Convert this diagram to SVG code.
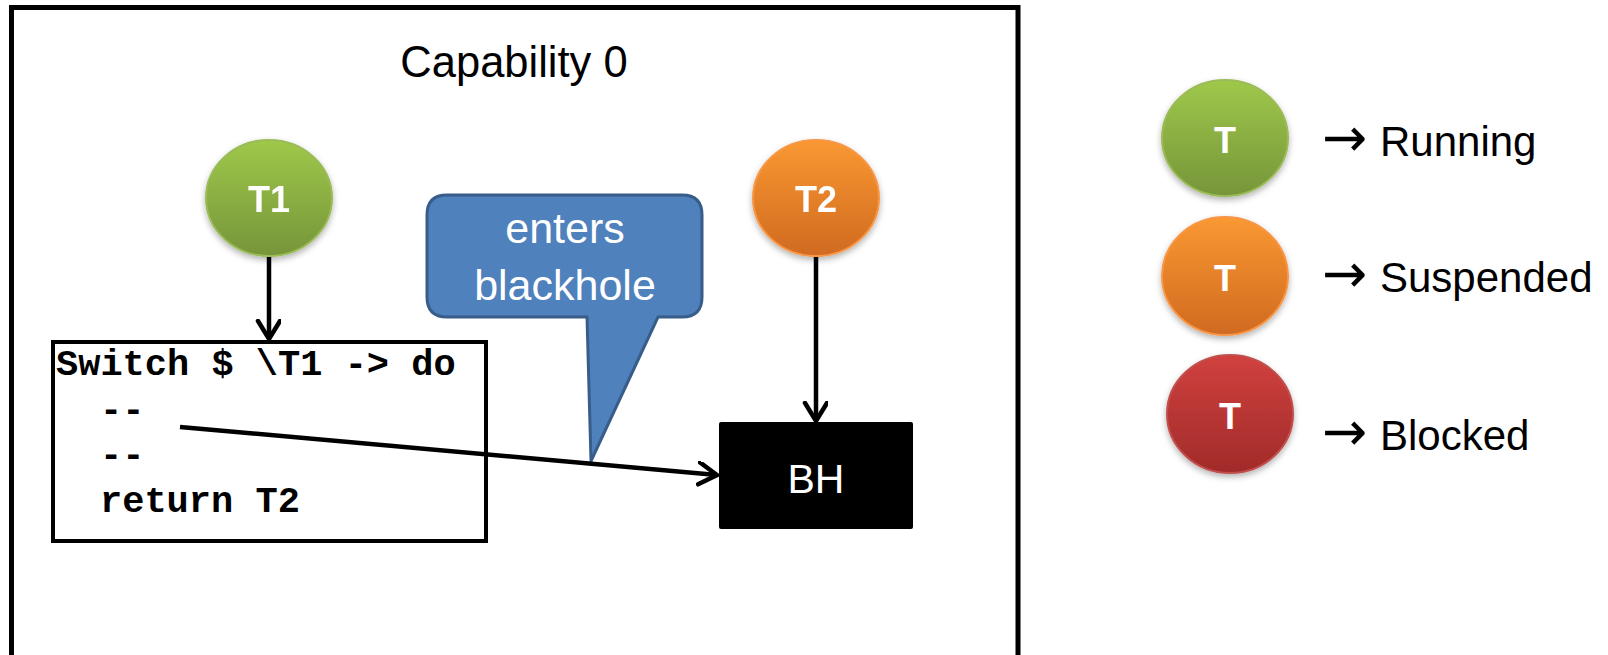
<svg xmlns="http://www.w3.org/2000/svg" width="1608" height="655" viewBox="0 0 1608 655">
  <defs>
    <linearGradient id="gGreen" x1="0" y1="0" x2="0" y2="1">
      <stop offset="0" stop-color="#9FC84A"/>
      <stop offset="1" stop-color="#76953A"/>
    </linearGradient>
    <linearGradient id="gOrange" x1="0" y1="0" x2="0" y2="1">
      <stop offset="0" stop-color="#FA9832"/>
      <stop offset="1" stop-color="#D06A20"/>
    </linearGradient>
    <linearGradient id="gRed" x1="0" y1="0" x2="0" y2="1">
      <stop offset="0" stop-color="#D0413F"/>
      <stop offset="1" stop-color="#A12B29"/>
    </linearGradient>
    <filter id="shadow" x="-20%" y="-20%" width="140%" height="150%">
      <feDropShadow dx="0" dy="3" stdDeviation="3" flood-color="#000" flood-opacity="0.3"/>
    </filter>
    <marker id="arrow" markerUnits="userSpaceOnUse" markerWidth="26" markerHeight="28" refX="20" refY="12" orient="auto">
      <path d="M2,1 L20,12 L2,23" fill="none" stroke="#000" stroke-width="4.5" stroke-linecap="round" stroke-linejoin="miter"/>
    </marker>
    <style>
      .frame { fill: #fff; stroke: #000; stroke-width: 5; }
      .label { font-family: "Liberation Sans", Arial, sans-serif; fill: #000; }
      .tlabel { font-family: "Liberation Sans", Arial, sans-serif; font-weight: bold; font-size: 36px; fill: #fff; text-anchor: middle; }
      .code { font-family: "Liberation Mono", "Courier New", monospace; font-weight: bold; font-size: 37px; fill: #000; }
      .conn { stroke: #000; stroke-width: 4.5; fill: none; marker-end: url(#arrow); }
      .legend { font-family: "Liberation Sans", Arial, sans-serif; font-size: 42px; fill: #000; }
      .sym { font-family: "DejaVu Sans", sans-serif; font-size: 54px; }
    </style>
  </defs>

  <rect width="1608" height="655" fill="#fff"/>

  <!-- capability frame (open at the bottom edge) -->
  <g id="capability">
    <rect class="frame" x="11.5" y="7.5" width="1006.5" height="700"/>
    <text class="label" x="514" y="77" font-size="43.5" text-anchor="middle">Capability 0</text>
  </g>

  <!-- thread T1 -->
  <g id="t1" filter="url(#shadow)">
    <ellipse cx="269" cy="198" rx="63" ry="58" fill="url(#gGreen)" stroke="#9BBB59" stroke-width="2"/>
    <text class="tlabel" x="269" y="212">T1</text>
  </g>

  <!-- thread T2 -->
  <g id="t2" filter="url(#shadow)">
    <ellipse cx="816" cy="198" rx="63" ry="58" fill="url(#gOrange)" stroke="#F79646" stroke-width="2"/>
    <text class="tlabel" x="816" y="212">T2</text>
  </g>

  <!-- code block -->
  <g id="code">
    <rect x="53" y="342" width="433" height="199" fill="#fff" stroke="#000" stroke-width="4"/>
    <text class="code" x="56" y="375" xml:space="preserve">Switch $ \T1 -&gt; do</text>
    <text class="code" x="100" y="421">--</text>
    <text class="code" x="100" y="466">--</text>
    <text class="code" x="100" y="512">return T2</text>
  </g>

  <!-- blackhole -->
  <g id="bh">
    <rect x="719" y="422" width="194" height="107" rx="2" fill="#000"/>
    <text class="label" x="816" y="493" font-size="41" text-anchor="middle" style="fill:#fff">BH</text>
  </g>

  <!-- callout -->
  <g id="callout">
    <path d="M447,195 H682 Q702,195 702,215 V297 Q702,317 682,317 H658 L591,461 L587,317 H447 Q427,317 427,297 V215 Q427,195 447,195 Z"
          fill="#4F81BD" stroke="#385D8A" stroke-width="3" stroke-linejoin="round"/>
    <text x="565" y="243" font-family="Liberation Sans, Arial, sans-serif" font-size="43" fill="#fff" text-anchor="middle">enters</text>
    <text x="565" y="300" font-family="Liberation Sans, Arial, sans-serif" font-size="43" fill="#fff" text-anchor="middle">blackhole</text>
  </g>

  <!-- connectors -->
  <g id="connectors">
    <line class="conn" x1="269" y1="257" x2="269" y2="339"/>
    <line class="conn" x1="816" y1="257" x2="816" y2="421"/>
    <line class="conn" x1="180" y1="427" x2="717" y2="475"/>
  </g>

  <!-- legend -->
  <g id="legend-running">
    <ellipse cx="1225" cy="138" rx="63" ry="58" fill="url(#gGreen)" stroke="#9BBB59" stroke-width="2" filter="url(#shadow)"/>
    <text class="tlabel" x="1225" y="153">T</text>
    <text class="legend" y="156"><tspan class="sym" x="1322">→</tspan><tspan x="1380">Running</tspan></text>
  </g>
  <g id="legend-suspended">
    <ellipse cx="1225" cy="276" rx="63" ry="59" fill="url(#gOrange)" stroke="#F79646" stroke-width="2" filter="url(#shadow)"/>
    <text class="tlabel" x="1225" y="291">T</text>
    <text class="legend" y="292"><tspan class="sym" x="1322">→</tspan><tspan x="1380">Suspended</tspan></text>
  </g>
  <g id="legend-blocked">
    <ellipse cx="1230" cy="414" rx="63" ry="59" fill="url(#gRed)" stroke="#C0504D" stroke-width="2" filter="url(#shadow)"/>
    <text class="tlabel" x="1230" y="429">T</text>
    <text class="legend" y="450"><tspan class="sym" x="1322">→</tspan><tspan x="1380">Blocked</tspan></text>
  </g>
</svg>
